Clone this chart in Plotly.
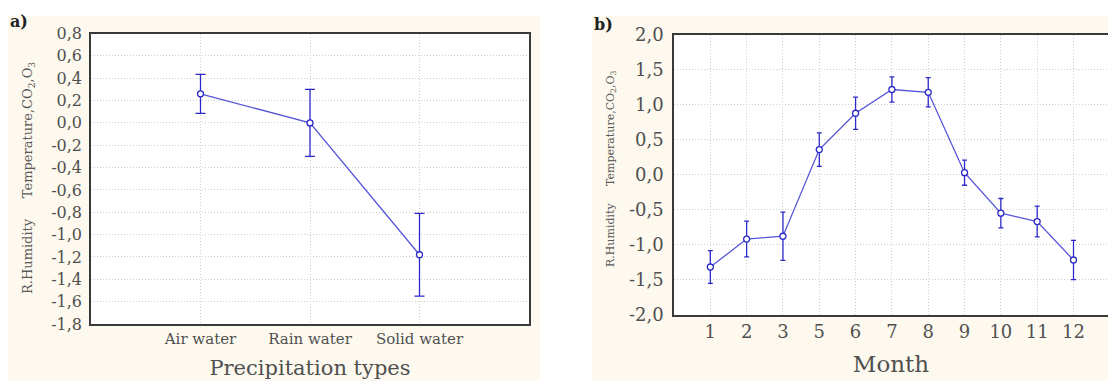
import plotly.graph_objects as go

# ---- data ----
precip_types = ["Air water", "Rain water", "Solid water"]
precip_mean = [0.26, 0.0, -1.18]
precip_err = [0.175, 0.30, 0.37]

months = ["1", "2", "3", "5", "6", "7", "8", "9", "10", "11", "12"]
month_mean = [-1.32, -0.92, -0.88, 0.36, 0.88, 1.22, 1.18, 0.03, -0.55, -0.67, -1.22]
month_err = [0.235, 0.255, 0.345, 0.24, 0.23, 0.18, 0.21, 0.18, 0.21, 0.22, 0.28]

ya_ticks = [0.8, 0.6, 0.4, 0.2, 0.0, -0.2, -0.4, -0.6, -0.8, -1.0, -1.2, -1.4, -1.6, -1.8]
ya_text = ["0,8", "0,6", "0,4", "0,2", "0,0", "-0,2", "-0,4", "-0,6", "-0,8", "-1,0",
           "-1,2", "-1,4", "-1,6", "-1,8"]
yb_ticks = [2.0, 1.5, 1.0, 0.5, 0.0, -0.5, -1.0, -1.5, -2.0]
yb_text = ["2,0", "1,5", "1,0", "0,5", "0,0", "-0,5", "-1,0", "-1,5", "-2,0"]

W, H = 1108, 381
FONT = "DejaVu Serif"
TXT = "#505050"
LINE = "#5555d8"
ERR = "#2a2ac8"
CREAM = "#fdf9ee"

def px(x):
    return x / W

def py(y):
    return 1 - y / H

fig = go.Figure()

fig.add_trace(go.Scatter(
    x=precip_types, y=precip_mean, xaxis="x", yaxis="y",
    mode="lines+markers",
    line=dict(color=LINE, width=1.3),
    marker=dict(symbol="circle", size=6, color="white", line=dict(color=ERR, width=1.3)),
    error_y=dict(type="data", array=precip_err, color=ERR, thickness=1.3, width=5),
    showlegend=False,
))

fig.add_trace(go.Scatter(
    x=months, y=month_mean, xaxis="x2", yaxis="y2",
    mode="lines+markers",
    line=dict(color=LINE, width=1.3),
    marker=dict(symbol="circle", size=6, color="white", line=dict(color=ERR, width=1.3)),
    error_y=dict(type="data", array=month_err, color=ERR, thickness=1.3, width=2.5),
    showlegend=False,
))

grid = dict(showgrid=True, gridcolor="#cfcfcf", griddash="1px,2px", gridwidth=1,
            zeroline=False, showline=True, mirror=True, linecolor="#3a3a3a", linewidth=1.5,
            ticks="", automargin=False)

fig.update_layout(
    template="none",
    width=W, height=H,
    margin=dict(l=0, r=0, t=0, b=0, pad=0),
    paper_bgcolor=CREAM,
    plot_bgcolor="white",
    font=dict(family=FONT, color=TXT),
    xaxis=dict(domain=[px(91), px(529)], anchor="y", type="category",
               range=[-1, 3], tickfont=dict(size=15, color=TXT),
               title=dict(text="Precipitation types", font=dict(size=21, color=TXT), standoff=14),
               **grid),
    yaxis=dict(domain=[py(324), py(33.5)], anchor="x", range=[-1.8, 0.8],
               tickvals=ya_ticks, ticktext=ya_text, tickfont=dict(size=16, color=TXT),
               ticklabelstandoff=4, **grid),
    xaxis2=dict(domain=[px(674), 1.0], anchor="y2", type="category",
                range=[-1, 10.95], tickfont=dict(size=18, color=TXT),
                title=dict(text="Month", font=dict(size=23, color=TXT), standoff=15),
                **grid),
    yaxis2=dict(domain=[py(314.5), py(35)], anchor="x2", range=[-2, 2],
                tickvals=yb_ticks, ticktext=yb_text, tickfont=dict(size=18, color=TXT),
                ticklabelstandoff=5, **grid),
    shapes=[
        dict(type="rect", xref="paper", yref="paper", x0=0, x1=1, y0=py(16), y1=1,
             fillcolor="white", line=dict(width=0), layer="below"),
        dict(type="rect", xref="paper", yref="paper", x0=0, x1=px(8), y0=0, y1=1,
             fillcolor="white", line=dict(width=0), layer="below"),
        dict(type="rect", xref="paper", yref="paper", x0=px(540), x1=px(592), y0=0, y1=1,
             fillcolor="white", line=dict(width=0), layer="below"),
    ],
    annotations=[
        dict(text="<b>a)</b>", xref="paper", yref="paper", x=px(8), y=py(22),
             xanchor="left", yanchor="middle", showarrow=False,
             font=dict(size=16, color="#222222", family=FONT)),
        dict(text="<b>b)</b>", xref="paper", yref="paper", x=px(592), y=py(25),
             xanchor="left", yanchor="middle", showarrow=False,
             font=dict(size=16, color="#222222", family=FONT)),
        dict(text="R.Humidity&nbsp;&nbsp;&nbsp;&nbsp;&nbsp;Temperature,CO<sub>2</sub>,O<sub>3</sub>",
             xref="paper", yref="paper", x=px(28), y=py(178), textangle=-90,
             xanchor="center", yanchor="middle", showarrow=False,
             font=dict(size=13, color="#5a5a5a", family=FONT)),
        dict(text="R.Humidity&nbsp;&nbsp;&nbsp;&nbsp;&nbsp;Temperature,CO<sub>2</sub>,O<sub>3</sub>",
             xref="paper", yref="paper", x=px(611), y=py(169), textangle=-90,
             xanchor="center", yanchor="middle", showarrow=False,
             font=dict(size=11, color="#5a5a5a", family=FONT)),
    ],
)

fig.write_html("out.html")
